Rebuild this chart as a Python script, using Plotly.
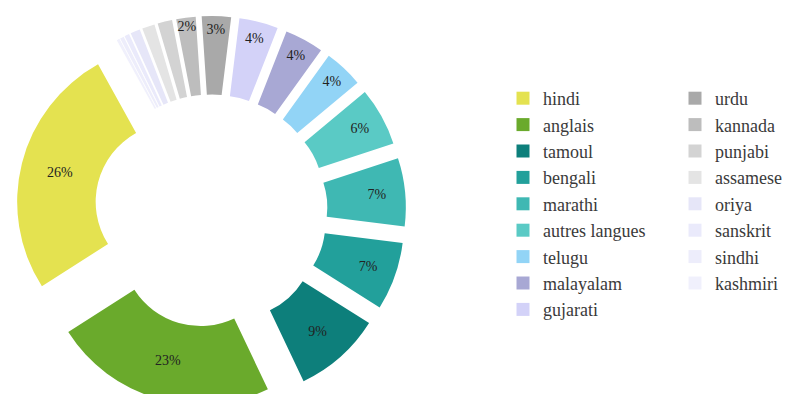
import plotly.graph_objects as go

# ---- data ----
languages = ["hindi", "anglais", "tamoul", "bengali", "marathi", "autres langues",
             "telugu", "malayalam", "gujarati", "urdu", "kannada", "punjabi",
             "assamese", "oriya", "sanskrit", "sindhi", "kashmiri"]
shares = [26, 23, 9, 7, 7, 6, 4, 4, 4, 3, 2, 1.5, 1.3, 1.0, 0.5, 0.4, 0.3]
labelled = [True] * 11 + [False] * 6
colors = ["#e4e250", "#6aaa2c", "#0d7f7b", "#22a09b", "#3fb8b3", "#5acac5",
          "#92d4f6", "#a8a8d4", "#d3d2f8", "#a9a9a9", "#bdbdbd", "#d3d3d3",
          "#e4e4e4", "#e6e6f8", "#eaeafb", "#ededfb", "#f0f0fc"]
legend_col1 = languages[:9]
legend_col2 = languages[9:]

FIG_W, FIG_H = 787, 422
FONT = "Liberation Serif"

fig = go.Figure()
fig.add_trace(go.Pie(
    labels=languages,
    values=shares,
    sort=False,
    direction="counterclockwise",
    rotation=-122.6,
    hole=0.5,
    pull=[0.242] * len(shares),
    marker=dict(colors=colors, line=dict(width=0)),
    textinfo="percent",
    texttemplate="%{percent:.0%}",
    textposition=["inside" if s else "none" for s in labelled],
    insidetextorientation="horizontal",
    textfont=dict(family=FONT, size=14, color="#222222"),
    showlegend=False,
    hoverinfo="label+percent",
    domain=dict(x=[16 / FIG_W, 406 / FIG_W], y=[0, 1]),
))

for name in languages:
    col = "legend" if name in legend_col1 else "legend2"
    fig.add_trace(go.Scatter(
        x=[None], y=[None], mode="markers", name=name,
        marker=dict(symbol="square", size=13, color=colors[languages.index(name)]),
        legend=col, showlegend=True, hoverinfo="skip",
    ))

legend_common = dict(
    font=dict(family=FONT, size=18, color="#3a3a3a"),
    bgcolor="rgba(0,0,0,0)", borderwidth=0,
    xanchor="left", yanchor="top", orientation="v",
    itemclick=False, itemdoubleclick=False,
)
fig.update_layout(
    height=FIG_H,
    margin=dict(l=0, r=0, t=0, b=0),
    paper_bgcolor="white",
    plot_bgcolor="white",
    xaxis=dict(visible=False),
    yaxis=dict(visible=False),
    uniformtext=dict(minsize=14, mode="show"),
    legend=dict(x=503 / FIG_W, y=1 - 80 / FIG_H, **legend_common),
    legend2=dict(x=675 / FIG_W, y=1 - 80 / FIG_H, **legend_common),
)

fig.write_html(
    "out.html",
    post_script="document.documentElement.style.overflow='hidden';document.body.style.overflow='hidden';document.body.style.margin='0';",
)
